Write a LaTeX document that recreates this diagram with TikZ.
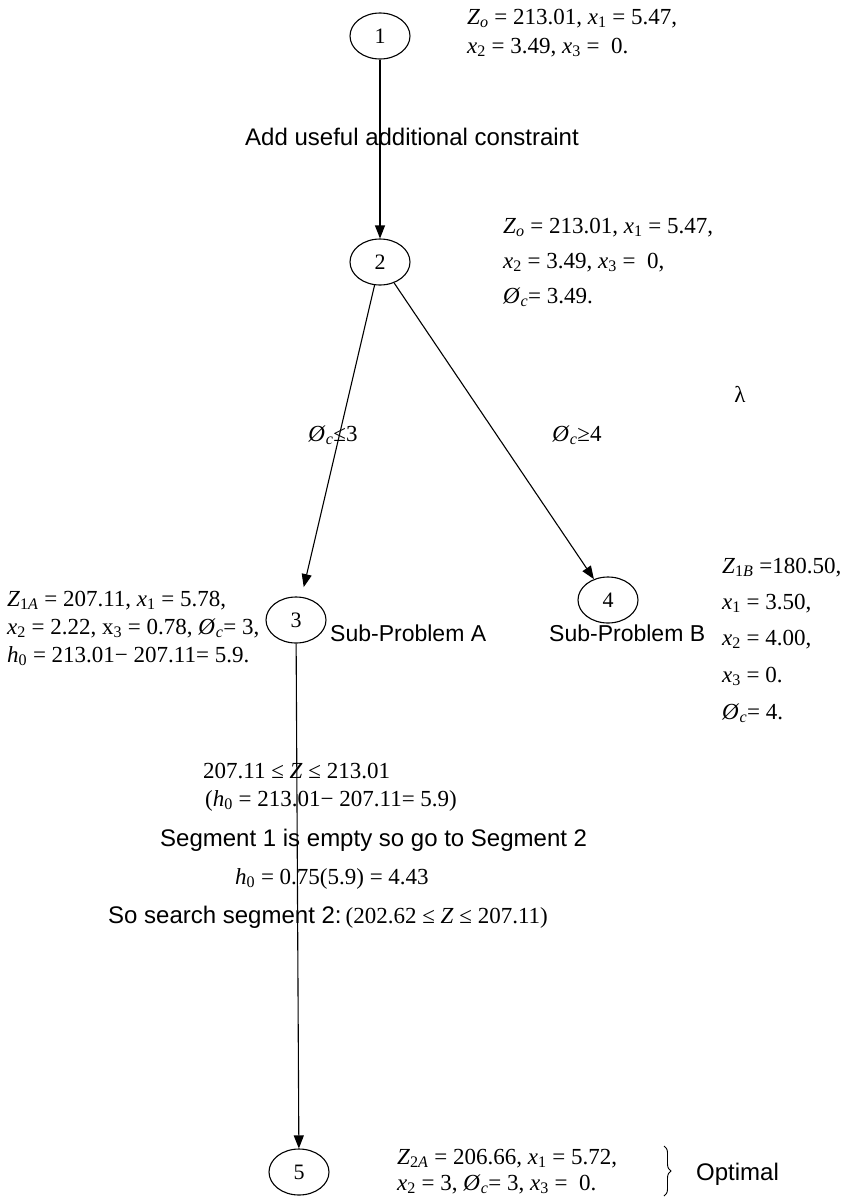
\documentclass[tikz,border=0pt]{standalone}
\usepackage{fontspec}
\setmainfont{Liberation Serif}
\newfontfamily\arialfont{Liberation Sans}
\usetikzlibrary{arrows.meta,shapes.geometric,decorations.pathreplacing}
\newcommand\vv[1]{\textit{#1}}
\newcommand\sbs[1]{\textsubscript{#1}}
\newcommand\phic{\textit{Ø}\textsubscript{\textit{c}}}
\tikzset{
  circ/.style={draw, ellipse, line width=1.1pt, minimum width=60pt, minimum height=46pt, inner sep=0pt, font=\fontsize{22}{26}\selectfont},
  ser/.style={inner sep=0pt, anchor=base west, font=\fontsize{23}{27}\selectfont},
  sans/.style={inner sep=0pt, anchor=base west, font=\arialfont\fontsize{24}{28}\selectfont},
  conn/.style={line width=1.1pt, -{Triangle[length=13pt,width=10pt]}},
}
\begin{document}
\begin{tikzpicture}[x=1pt,y=-1pt]
\useasboundingbox (0,0) rectangle (850,1197);
% nodes
\node[circ] (n1) at (380,36) {1};
\node[circ] (n2) at (380,262) {2};
\node[circ] (n3) at (296,620) {3};
\node[circ] (n4) at (608,600) {4};
\node[circ] (n5) at (299,1172) {5};
% connectors
\draw[conn] (n1) -- (n2);
\draw[conn, shorten >=10pt] (n2) -- (n3);
\draw[conn] (n2) -- (n4);
\draw[conn] (n3) -- (n5);
% labels node 1
\node[ser] (l1a) at (467,24) {\vv{Z}\sbs{\vv{o}} = 213.01, \vv{x}\sbs{1} = 5.47,};
\node[ser] (l1b) at (467,53) {\vv{x}\sbs{2} = 3.49, \vv{x}\sbs{3} = \ 0.};
\node[sans, anchor=base] (add) at (412,145) {Add useful additional constraint};
% labels node 2
\node[ser] (l2a) at (503,233) {\vv{Z}\sbs{\vv{o}} = 213.01, \vv{x}\sbs{1} = 5.47,};
\node[ser] (l2b) at (503,268) {\vv{x}\sbs{2} = 3.49, \vv{x}\sbs{3} = \ 0,};
\node[ser] (l2c) at (503,303) {\phic = 3.49.};
% edge labels
\node[ser, anchor=base] (e23) at (333,441) {\phic≤3};
\node[ser, anchor=base] (e24) at (577,441) {\phic≥4};
\node[ser, anchor=base] (lam) at (740,402) {λ};
% labels node 3
\node[ser] (l3a) at (7,606) {\vv{Z}\sbs{1\vv{A}} = 207.11, \vv{x}\sbs{1} = 5.78,};
\node[ser] (l3b) at (7,634) {\vv{x}\sbs{2} = 2.22, x\sbs{3} = 0.78, \phic = 3,};
\node[ser] (l3c) at (7,662) {\vv{h}\sbs{0} = 213.01− 207.11= 5.9.};
\node[sans, font=\arialfont\fontsize{23}{27}\selectfont] (sa) at (330,641) {Sub-Problem A};
\node[sans, font=\arialfont\fontsize{23}{27}\selectfont] (sb) at (549,641) {Sub-Problem B};
% labels node 4
\node[ser] (l4a) at (722,573) {\vv{Z}\sbs{1\vv{B}} =180.50,};
\node[ser] (l4b) at (722,609) {\vv{x}\sbs{1} = 3.50,};
\node[ser] (l4c) at (722,645) {\vv{x}\sbs{2} = 4.00,};
\node[ser] (l4d) at (722,682) {\vv{x}\sbs{3} = 0.};
\node[ser] (l4e) at (722,719) {\phic = 4.};
% middle texts
\node[ser] (m1) at (203,778) {207.11 ≤ \vv{Z} ≤ 213.01};
\node[ser] (m2) at (205,806) {(\vv{h}\sbs{0} = 213.01− 207.11= 5.9)};
\node[sans] (m3) at (160,846) {Segment 1 is empty so go to Segment 2};
\node[ser] (m4) at (235,884) {\vv{h}\sbs{0} = 0.75(5.9) = 4.43};
\node[sans] (m5) at (108,923) {So search segment 2:\,{\rmfamily\fontsize{23}{27}\selectfont (202.62 ≤ \vv{Z} ≤ 207.11)}};
% labels node 5
\node[ser] (l5a) at (397,1164) {\vv{Z}\sbs{2\vv{A}} = 206.66, \vv{x}\sbs{1} = 5.72,};
\node[ser] (l5b) at (397,1190) {\vv{x}\sbs{2} = 3, \phic = 3, \vv{x}\sbs{3} = \ 0.};
\coordinate (bt) at (664,1146);
\coordinate (bb) at (664,1196);
\draw[line width=0.9pt, decorate, decoration={brace, amplitude=7pt}] (bt) -- (bb);
\node[sans] (opt) at (696,1180) {Optimal};
\end{tikzpicture}
\end{document}
